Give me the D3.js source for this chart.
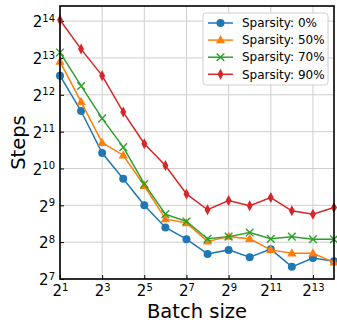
<!DOCTYPE html>
<html>
<head>
<meta charset="utf-8">
<script src="https://cdn.jsdelivr.net/npm/d3@7"></script>
<style>
  body { margin: 0; background: #fff; }
  text { font-family: "DejaVu Sans", sans-serif; }
</style>
</head>
<body>
<div id="chart"></div>
<script>
// log2 of batch size, one point per power of two
var batchPow = [1, 2, 3, 4, 5, 6, 7, 8, 9, 10, 11, 12, 13, 14];
var seriesNames = ["Sparsity: 0%", "Sparsity: 50%", "Sparsity: 70%", "Sparsity: 90%"];
// log2 of steps
var steps0  = [12.52, 11.56, 10.42, 9.72, 9.00, 8.40, 8.08, 7.68, 7.79, 7.59, 7.81, 7.33, 7.57, 7.48];
var steps50 = [12.90, 11.81, 10.70, 10.36, 9.53, 8.63, 8.52, 8.02, 8.15, 8.09, 7.79, 7.70, 7.70, 7.45];
var steps70 = [13.15, 12.24, 11.36, 10.58, 9.58, 8.76, 8.56, 8.09, 8.15, 8.26, 8.09, 8.15, 8.08, 8.08];
var steps90 = [14.03, 13.24, 12.52, 11.53, 10.67, 10.08, 9.31, 8.88, 9.13, 8.99, 9.21, 8.85, 8.76, 8.94];
var xTicks = [1, 3, 5, 7, 9, 11, 13];
var yTicks = [7, 8, 9, 10, 11, 12, 13, 14];

var colors = ["#1f77b4", "#ff7f0e", "#2ca02c", "#d62728"];
var markers = ["circle", "triangle", "x", "diamond"];

var margin = {top: 6, right: 3, bottom: 48, left: 60},
    width = 337 - margin.left - margin.right,
    height = 327 - margin.top - margin.bottom;

var svg = d3.select("#chart")
    .append("svg")
        .attr("width", 337)
        .attr("height", 327)
    .append("g")
        .attr("transform", "translate(" + margin.left + "," + margin.top + ")");

var x = d3.scaleLinear()
    .domain([1, 14])
    .range([0, width]);

var y = d3.scaleLinear()
    .domain([7, 14.41])
    .range([height, 0]);

// grid
svg.selectAll(".vgrid")
    .data(xTicks)
    .enter()
    .append("line")
    .attr("x1", function(d) { return x(d); })
    .attr("x2", function(d) { return x(d); })
    .attr("y1", 0)
    .attr("y2", height)
    .attr("stroke", "#cfcfcf")
    .attr("stroke-width", 1);

svg.selectAll(".hgrid")
    .data(yTicks)
    .enter()
    .append("line")
    .attr("x1", 0)
    .attr("x2", width)
    .attr("y1", function(d) { return y(d); })
    .attr("y2", function(d) { return y(d); })
    .attr("stroke", "#cfcfcf")
    .attr("stroke-width", 1);

// axes, ticks point inward
var xAxis = svg.append("g")
    .attr("transform", "translate(0," + height + ")")
    .call(d3.axisBottom(x).tickValues(xTicks).tickSize(-4).tickFormat(""));
var yAxis = svg.append("g")
    .call(d3.axisLeft(y).tickValues(yTicks).tickSize(-4).tickFormat(""));
svg.selectAll(".domain").remove();
svg.selectAll(".tick line").attr("stroke", "#000").attr("stroke-width", 1);

function powLabel(sel, d) {
    sel.append("tspan").text("2");
    sel.append("tspan")
        .attr("dy", "-0.55em")
        .style("font-size", "10px")
        .text(d);
}

xAxis.selectAll(".tick").each(function(d) {
    var t = d3.select(this).append("text")
        .attr("y", 17)
        .attr("fill", "#000")
        .style("font-size", "15px")
        .attr("text-anchor", "middle");
    powLabel(t, d);
});

yAxis.selectAll(".tick").each(function(d) {
    var t = d3.select(this).append("text")
        .attr("x", -5)
        .attr("dy", "0.38em")
        .attr("fill", "#000")
        .style("font-size", "15px")
        .attr("text-anchor", "end");
    powLabel(t, d);
});

// series
var allSeries = [steps0, steps50, steps70, steps90];

var line = d3.line()
    .x(function(d, i) { return x(batchPow[i]); })
    .y(function(d) { return y(d); });

function drawMarker(g, kind, color) {
    if (kind == "circle") {
        g.append("circle").attr("r", 4).attr("fill", color);
    } else if (kind == "triangle") {
        g.append("path").attr("d", "M0,-5L4.6,3.2L-4.6,3.2Z").attr("fill", color);
    } else if (kind == "x") {
        g.append("path").attr("d", "M-3.8,-3.8L3.8,3.8M-3.8,3.8L3.8,-3.8")
            .attr("stroke", color).attr("stroke-width", 1.4).attr("fill", "none");
    } else {
        g.append("path").attr("d", "M0,-5.5L3,0L0,5.5L-3,0Z").attr("fill", color);
    }
}

var plot = svg.append("g");
allSeries.forEach(function(vals, k) {
    plot.append("path")
        .datum(vals)
        .attr("fill", "none")
        .attr("stroke", colors[k])
        .attr("stroke-width", 1.5)
        .attr("d", line);
    plot.selectAll(".m" + k)
        .data(vals)
        .enter()
        .append("g")
        .attr("transform", function(d, i) {
            return "translate(" + x(batchPow[i]) + "," + y(d) + ")";
        })
        .each(function() { drawMarker(d3.select(this), markers[k], colors[k]); });
});

// frame
svg.append("rect")
    .attr("width", width)
    .attr("height", height)
    .attr("fill", "none")
    .attr("stroke", "#000")
    .attr("stroke-width", 1.6);

// axis labels
svg.append("text")
    .attr("x", width / 2)
    .attr("y", height + 39)
    .attr("text-anchor", "middle")
    .style("font-size", "19.5px")
    .text("Batch size");

svg.append("text")
    .attr("transform", "rotate(-90)")
    .attr("x", -height / 2)
    .attr("y", -35)
    .attr("text-anchor", "middle")
    .style("font-size", "19.5px")
    .text("Steps");

// legend
var legend = svg.append("g")
    .attr("transform", "translate(" + (203 - margin.left) + "," + (13 - margin.top) + ")");

legend.append("rect")
    .attr("width", 125)
    .attr("height", 72)
    .attr("rx", 3)
    .attr("fill", "#fff")
    .attr("fill-opacity", 0.85)
    .attr("stroke", "#d0d0d0");

seriesNames.forEach(function(name, k) {
    var row = legend.append("g")
        .attr("transform", "translate(0," + (10 + k * 17.1) + ")");
    row.append("line")
        .attr("x1", 5).attr("x2", 30)
        .attr("stroke", colors[k])
        .attr("stroke-width", 1.5);
    drawMarker(row.append("g").attr("transform", "translate(17.5,0)"), markers[k], colors[k]);
    row.append("text")
        .attr("x", 39)
        .attr("dy", "0.35em")
        .style("font-size", "12px")
        .text(name);
});
</script>
</body>
</html>
